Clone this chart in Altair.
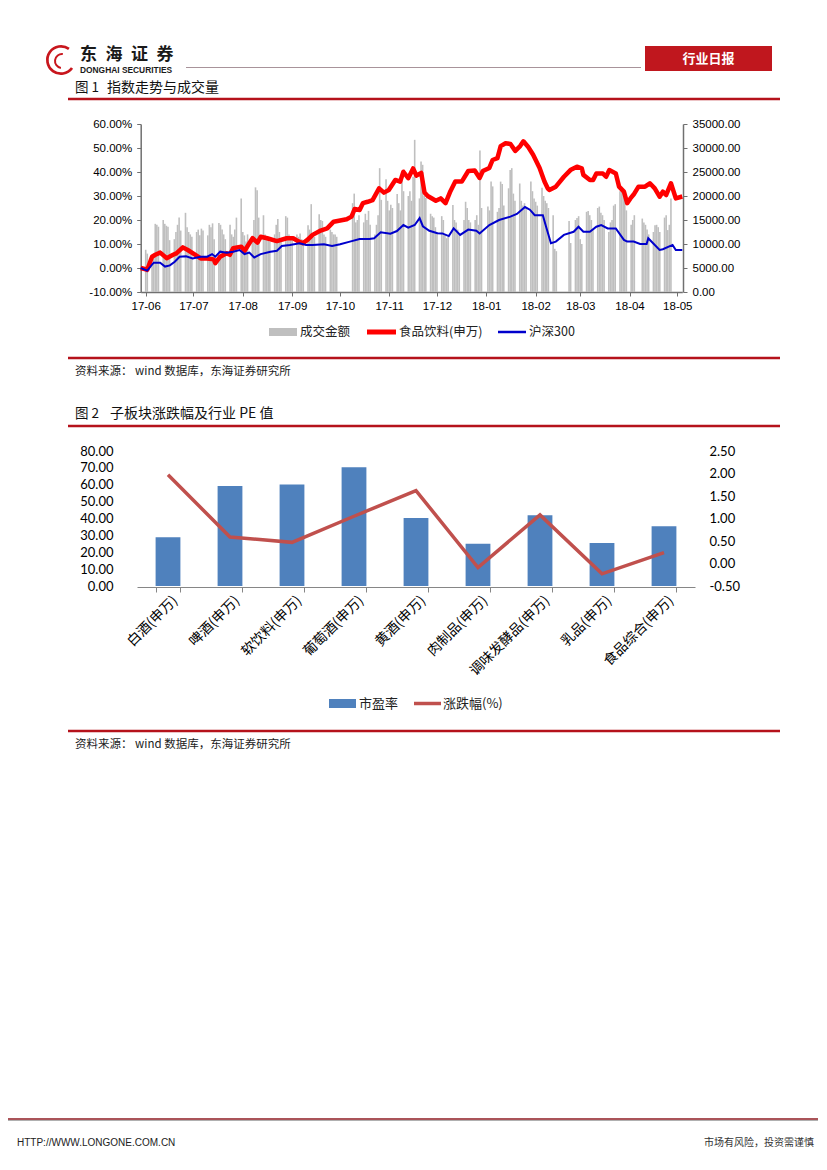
import altair as alt
import pandas as pd

W, H = 810, 1148


def px(x):
    return x - 8


def py(y):
    return y - 8


CJK = "Noto Sans CJK SC"
SANS = "Liberation Sans"
NUM2 = "Lato"
RED = "#C0171E"
AXG = "#707070"

one = pd.DataFrame({"k": [0]})


def text(x, y, s, size=12, color="#111111", font=CJK, weight="normal", align="left"):
    return alt.Chart(one).mark_text(
        text=s, fontSize=size, color=color, font=font, fontWeight=weight,
        align=align, baseline="middle"
    ).encode(x=alt.value(px(x)), y=alt.value(py(y)))


def hrule(x1, x2, y, color, width):
    return alt.Chart(one).mark_rule(color=color, strokeWidth=width).encode(
        x=alt.value(px(x1)), x2=alt.value(px(x2)), y=alt.value(py(y)))


def box(x1, x2, y1, y2, color):
    return alt.Chart(one).mark_rect(color=color).encode(
        x=alt.value(px(x1)), x2=alt.value(px(x2)),
        y=alt.value(py(y1)), y2=alt.value(py(y2)))


# ---------------- Figure 1 data ----------------
holidays = ["2017-10-02", "2017-10-03", "2017-10-04", "2017-10-05", "2017-10-06",
            "2018-01-01", "2018-02-15", "2018-02-16", "2018-02-19", "2018-02-20",
            "2018-02-21", "2018-04-05", "2018-04-06"]
trade_days = [d.strftime("%Y/%m/%d") for d in pd.bdate_range("2017-06-01", "2018-04-27")
              if d.strftime("%Y-%m-%d") not in holidays]

volume = [
    8800, 8000,
    5500, 7400, 14200, 14000, 13600,
    15000, 14200, 13800, 13600, 10800,
    11000, 12500, 14000, 15500, 12800,
    16500, 13500, 12500, 12000, 11500,
    12500, 13000, 11800, 13200, 12800,
    11800, 14000, 13500, 14300, 11000,
    14400, 14000, 13000, 12000, 11000,
    14000, 12000, 11500, 13000, 15500,
    19500, 12500, 11800, 10500, 12000,
    11000, 15000, 21800, 21200, 15500,
    16000, 12000, 11500, 11000, 10500,
    12000, 14000, 15200, 12500, 10500,
    15800, 15500, 12000, 11500, 11000,
    12000, 11500, 12200, 11000, 10800,
    13900, 13000, 18300, 12000, 11500,
    16200, 15000, 14800, 12000, 11500,
    13000, 12500, 12000, 12000, 11500,
    18500, 20500, 14500, 15000, 16000,
    14500, 16300, 15000, 16900, 14000,
    12000, 14000, 16000, 25800, 19200,
    23500, 19000, 17000, 18200, 17500,
    20400, 18500, 17000, 23500, 21000,
    20000, 21000, 19000, 24000, 31700,
    19500, 27200, 26500, 20000, 19600,
    16300, 15800, 15500, 13500, 12500,
    15800, 15000, 12000, 11200, 11500,
    18100, 15000, 14500, 13000, 12000,
    15000, 18800, 17500, 15000, 14500,
    15000, 16000, 14000, 29500, 17500,
    17800, 17000, 23000, 22000,
    16700, 17500, 23000, 22500, 18000,
    21600, 25400, 25800, 20500, 19000,
    22600, 19000, 18000, 18500, 17500,
    23000, 21000, 19500, 18800, 18000,
    21700, 20000, 19000, 18500, 17500,
    16000, 9000, 8500,
    14800, 10200,
    15000, 15400, 15800, 11000, 10000,
    16700, 16900, 16000, 15000, 13000,
    17500, 17800, 16500, 16000, 15000,
    12500, 14500, 15000, 18000, 18300,
    21000, 21900, 21000, 20000, 17000,
    14000, 15000, 16000,
    15300, 14500, 14000, 13000, 12000,
    12500, 13900, 14000, 13500, 12500,
    15500, 16000, 12900, 14000, 19500,
]

red_dates = [
    "2017/06/01", "2017/06/04", "2017/06/05", "2017/06/08", "2017/06/10", "2017/06/13",
    "2017/06/17", "2017/06/21", "2017/06/23", "2017/06/27", "2017/06/30",
    "2017/07/04", "2017/07/08", "2017/07/12", "2017/07/16", "2017/07/17", "2017/07/20",
    "2017/07/24", "2017/07/26", "2017/07/28",
    "2017/08/02", "2017/08/04", "2017/08/07", "2017/08/09", "2017/08/12", "2017/08/14",
    "2017/08/18", "2017/08/24", "2017/08/30",
    "2017/09/03", "2017/09/06", "2017/09/09", "2017/09/12", "2017/09/15", "2017/09/20",
    "2017/09/24", "2017/09/28",
    "2017/10/06", "2017/10/09", "2017/10/11", "2017/10/14", "2017/10/16", "2017/10/19",
    "2017/10/22", "2017/10/26", "2017/10/29",
    "2017/11/01", "2017/11/05", "2017/11/08", "2017/11/10", "2017/11/13", "2017/11/16",
    "2017/11/18", "2017/11/21", "2017/11/23", "2017/11/25", "2017/11/30",
    "2017/12/03", "2017/12/06", "2017/12/09", "2017/12/12", "2017/12/16", "2017/12/20",
    "2017/12/24", "2017/12/27", "2017/12/29",
    "2018/01/02", "2018/01/04", "2018/01/07", "2018/01/09", "2018/01/12", "2018/01/15",
    "2018/01/18", "2018/01/21", "2018/01/23", "2018/01/26", "2018/01/29",
    "2018/02/02", "2018/02/05", "2018/02/07", "2018/02/08", "2018/02/12", "2018/02/17",
    "2018/02/21", "2018/02/25", "2018/02/28",
    "2018/03/01", "2018/03/05", "2018/03/07", "2018/03/09", "2018/03/13", "2018/03/15",
    "2018/03/17", "2018/03/21", "2018/03/23", "2018/03/26", "2018/03/28", "2018/03/30",
    "2018/04/01", "2018/04/04", "2018/04/08", "2018/04/11", "2018/04/14", "2018/04/17",
    "2018/04/19", "2018/04/21", "2018/04/24", "2018/04/27",
    "2018/05/01",
]
red_pct = [
    0.000, -0.005, -0.008, 0.047, 0.055, 0.064, 0.041, 0.055, 0.061, 0.086, 0.075,
    0.058, 0.040, 0.040, 0.036, 0.020, 0.047, 0.061, 0.055, 0.082,
    0.089, 0.071, 0.103, 0.124, 0.106, 0.130, 0.124, 0.112, 0.124,
    0.124, 0.112, 0.103, 0.118, 0.138, 0.156, 0.165, 0.193,
    0.203, 0.214, 0.246, 0.242, 0.270, 0.276, 0.283, 0.332, 0.314,
    0.325, 0.367, 0.360, 0.401, 0.374, 0.415, 0.385, 0.396, 0.315, 0.300, 0.280,
    0.290, 0.270, 0.320, 0.360, 0.360, 0.404, 0.406, 0.375, 0.404,
    0.417, 0.450, 0.458, 0.508, 0.520, 0.517, 0.488, 0.508, 0.528, 0.504, 0.472,
    0.417, 0.360, 0.332, 0.325, 0.339, 0.380, 0.408, 0.422, 0.415,
    0.388, 0.367, 0.367, 0.394, 0.394, 0.380, 0.408, 0.394, 0.339, 0.318, 0.270, 0.290,
    0.306, 0.339, 0.339, 0.353, 0.332, 0.297, 0.318, 0.304, 0.353, 0.290,
    0.298,
]

blue_dates = [
    "2017/06/01", "2017/06/05", "2017/06/09", "2017/06/13", "2017/06/16", "2017/06/19",
    "2017/06/22", "2017/06/25", "2017/06/29",
    "2017/07/03", "2017/07/08", "2017/07/12", "2017/07/15", "2017/07/17", "2017/07/20",
    "2017/07/24", "2017/07/28",
    "2017/08/01", "2017/08/04", "2017/08/07", "2017/08/10", "2017/08/14", "2017/08/20",
    "2017/08/24", "2017/08/27",
    "2017/09/01", "2017/09/07", "2017/09/11", "2017/09/15", "2017/09/22", "2017/09/27",
    "2017/10/02", "2017/10/08", "2017/10/14", "2017/10/20", "2017/10/23", "2017/10/27",
    "2017/11/02", "2017/11/06", "2017/11/10", "2017/11/13", "2017/11/17", "2017/11/20",
    "2017/11/22", "2017/11/26",
    "2017/12/01", "2017/12/04", "2017/12/08", "2017/12/11", "2017/12/15", "2017/12/20",
    "2017/12/25", "2017/12/27",
    "2018/01/02", "2018/01/08", "2018/01/15", "2018/01/19", "2018/01/24", "2018/01/27",
    "2018/01/30",
    "2018/02/04", "2018/02/06", "2018/02/09", "2018/02/12", "2018/02/17", "2018/02/23",
    "2018/02/26",
    "2018/03/01", "2018/03/05", "2018/03/09", "2018/03/12", "2018/03/16", "2018/03/21",
    "2018/03/26", "2018/03/28",
    "2018/04/01", "2018/04/05", "2018/04/09", "2018/04/10", "2018/04/13", "2018/04/17",
    "2018/04/19", "2018/04/25", "2018/04/27",
    "2018/05/01",
]
blue_pct = [
    0.000, -0.011, 0.022, 0.022, 0.006, 0.011, 0.026, 0.047, 0.049,
    0.040, 0.047, 0.047, 0.058, 0.047, 0.068, 0.064, 0.068,
    0.075, 0.058, 0.064, 0.044, 0.058, 0.068, 0.072, 0.092,
    0.096, 0.103, 0.096, 0.096, 0.099, 0.092,
    0.099, 0.110, 0.121, 0.121, 0.124, 0.149,
    0.143, 0.154, 0.179, 0.168, 0.179, 0.208, 0.174, 0.155,
    0.145, 0.144, 0.133, 0.165, 0.138, 0.160, 0.155, 0.144,
    0.179, 0.200, 0.214, 0.225, 0.254, 0.243, 0.220,
    0.220, 0.172, 0.103, 0.110, 0.138, 0.151, 0.172,
    0.151, 0.151, 0.172, 0.179, 0.165, 0.165, 0.117, 0.110,
    0.110, 0.100, 0.100, 0.124, 0.103, 0.075, 0.078, 0.096, 0.075,
    0.075,
]

month_ticks = [alt.DateTime(year=2017, month=m, date=1) for m in range(6, 13)] + \
              [alt.DateTime(year=2018, month=m, date=1) for m in range(1, 6)]
pct_ticks = [-0.1, 0.0, 0.1, 0.2, 0.3, 0.4, 0.5, 0.6]
vol_ticks = [0, 5000, 10000, 15000, 20000, 25000, 30000, 35000]

vol_df = pd.DataFrame({"date": trade_days, "vol": volume})
red_df = pd.DataFrame({"date": red_dates, "pct": red_pct})
blue_df = pd.DataFrame({"date": blue_dates, "pct": blue_pct})

x1_scale = alt.Scale(domain=[alt.DateTime(year=2017, month=6, date=1),
                             alt.DateTime(year=2018, month=5, date=1)],
                     range=[px(140.7), px(682.3)], nice=False)
pct_scale = alt.Scale(domain=[-0.1, 0.6], range=[py(292), py(124)], nice=False, zero=False)
vol_scale = alt.Scale(domain=[0, 35000], range=[py(292), py(124)], nice=False)

MINUS = "\u2212"
common1 = dict(labelFont=SANS, labelFontSize=11.5, labelColor="#000000", domainColor=AXG,
               domainWidth=1.5, tickColor=AXG, tickWidth=1, tickSize=4, grid=False,
               title=None, labelOverlap=False)

bars1 = alt.Chart(vol_df).mark_bar(size=1.6, color="#BFBFBF").encode(
    x=alt.X("date:T", scale=x1_scale,
            axis=alt.Axis(orient="bottom", offset=py(292) - H, values=month_ticks,
                          format="%y-%m", labelPadding=4, labelFlush=False, **common1)),
    y=alt.Y("vol:Q", scale=vol_scale,
            axis=alt.Axis(orient="right", offset=px(683) - W, values=vol_ticks,
                          format=".2f", labelPadding=5, **common1)),
)

red_line = alt.Chart(red_df).mark_line(color="#FF0000", strokeWidth=4.5,
                                        strokeJoin="round").encode(
    x=alt.X("date:T", scale=x1_scale, axis=None),
    y=alt.Y("pct:Q", scale=pct_scale,
            axis=alt.Axis(orient="left", offset=-px(140.7), values=pct_ticks,
                          labelExpr="replace(format(datum.value, '.2%'), '" + MINUS + "', '-')",
                          labelPadding=5, **common1)),
)

blue_line = alt.Chart(blue_df).mark_line(color="#0000CC", strokeWidth=2).encode(
    x=alt.X("date:T", scale=x1_scale, axis=None),
    y=alt.Y("pct:Q", scale=pct_scale, axis=None),
)

# ---------------- Figure 2 data ----------------
categories = ["白酒(申万)", "啤酒(申万)", "软饮料(申万)", "葡萄酒(申万)", "黄酒(申万)",
              "肉制品(申万)", "调味发酵品(申万)", "乳品(申万)", "食品综合(申万)"]
pe_values = [28.9, 59.3, 60.1, 70.3, 40.3, 25.0, 42.0, 25.5, 35.4]
change_values = [1.97, 0.59, 0.47, 1.05, 1.62, -0.09, 1.08, -0.23, 0.24]
pe_ticks = [0, 10, 20, 30, 40, 50, 60, 70, 80]
chg_ticks = [-0.5, 0.0, 0.5, 1.0, 1.5, 2.0, 2.5]

df2 = pd.DataFrame({"cat": categories, "pe": pe_values, "chg": change_values})

X2 = [px(137), px(695)]
Y2 = [py(586), py(451)]

bars2 = alt.Chart(df2).mark_bar(color="#4F81BD").encode(
    x=alt.X("cat:N", sort=categories,
            scale=alt.Scale(domain=categories, range=X2, paddingInner=0.6, paddingOuter=0.3),
            axis=alt.Axis(orient="bottom", offset=py(587) - H, labelAngle=-45,
                          labelAlign="right", labelBaseline="middle", labelFont=CJK,
                          labelFontSize=13.8, labelColor="#000000", labelPadding=6,
                          labelOffset=7, tickBand="extent", tickSize=5, tickColor="#868686",
                          domainColor="#868686", domainWidth=1, title=None,
                          labelOverlap=False, labelLimit=300, grid=False)),
    y=alt.Y("pe:Q", scale=alt.Scale(domain=[0, 80], range=Y2, nice=False),
            axis=alt.Axis(orient="left", offset=-px(117), values=pe_ticks, format=".2f",
                          domain=False, ticks=False, tickSize=0, labelPadding=4,
                          labelFont=NUM2, labelFontSize=13, labelColor="#000000",
                          grid=False, title=None, labelOverlap=False)),
)

line2 = alt.Chart(df2).mark_line(color="#C0504D", strokeWidth=3.5).encode(
    x=alt.X("cat:N", sort=categories,
            scale=alt.Scale(type="point", domain=categories, range=X2, padding=0.5),
            axis=None),
    y=alt.Y("chg:Q", scale=alt.Scale(domain=[-0.5, 2.5], range=Y2, nice=False, zero=False),
            axis=alt.Axis(orient="right", offset=px(705) - W, values=chg_ticks,
                          labelExpr="replace(format(datum.value, '.2f'), '" + MINUS + "', '-')",
                          domain=False, ticks=False, tickSize=0, labelPadding=4,
                          labelFont=NUM2, labelFontSize=13, labelColor="#000000",
                          grid=False, title=None, labelOverlap=False)),
)

# ---------------- page decorations ----------------
decor = [
    # logo
    alt.Chart(one).mark_arc(theta=2.2, theta2=6.9, radius=15, radius2=12.3, color="#C8161D").encode(
        x=alt.value(px(61)), y=alt.value(py(60))),
    alt.Chart(one).mark_arc(theta=3.3, theta2=6.4, radius=8, radius2=6, color="#C8161D").encode(
        x=alt.value(px(62)), y=alt.value(py(61))),
    text(80, 54.5, "东\u2002海\u2002证\u2002券", size=17, color="#1A1A1A", weight="bold"),
    text(80, 70, "DONGHAI SECURITIES", size=8.4, color="#1A1A1A", font=SANS, weight="bold"),
    hrule(186, 641, 67.5, "#A8939A", 1.2),
    box(645, 772, 46, 71, RED),
    text(708.5, 58.5, "行业日报", size=13, color="#FFFFFF", weight="bold", align="center"),
    # figure 1 heading
    text(75, 88, "图 1", size=13.5),
    text(107, 88, "指数走势与成交量", size=14),
    hrule(68, 780, 99, "#B5121B", 2.5),
    # figure 1 legend
    box(269, 297, 328, 336, "#BFBFBF"),
    text(300, 332, "成交金额", size=12.5, color="#222222"),
    hrule(367, 396, 332, "#FF0000", 5),
    text(399, 332, "食品饮料(申万)", size=12.5, color="#222222"),
    hrule(498, 526, 332, "#0000CC", 2.5),
    text(529, 332, "沪深300", size=12.5, color="#222222"),
    hrule(68, 780, 358, "#B5121B", 2.5),
    text(75, 372, "资料来源：  wind 数据库，东海证券研究所", size=11.5, color="#222222"),
    # figure 2 heading
    text(75, 414, "图 2", size=13.5),
    text(110, 414, "子板块涨跌幅及行业 PE 值", size=14),
    hrule(68, 780, 426, "#B5121B", 2.5),
    # figure 2 legend
    box(329, 356, 699, 708, "#4F81BD"),
    text(359, 703.5, "市盈率", size=13, color="#222222"),
    hrule(414, 441, 703.5, "#C0504D", 3.5),
    text(443, 703.5, "涨跌幅(%)", size=13, color="#222222"),
    hrule(68, 780, 731, "#B5121B", 2.5),
    text(75, 745, "资料来源：  wind 数据库，东海证券研究所", size=11.5, color="#222222"),
    # footer
    hrule(8, 818, 1120.5, "#B0B0B0", 1),
    hrule(8, 818, 1119, "#8E1B22", 1.3),
    text(17, 1143, "HTTP://WWW.LONGONE.COM.CN", size=10, color="#222222", font=SANS),
    text(814, 1143, "市场有风险，投资需谨慎", size=10, color="#333333", align="right"),
]

chart = alt.layer(*decor, bars1, red_line, blue_line, bars2, line2).resolve_scale(
    x="independent", y="independent"
).properties(
    width=W, height=H, padding=0, background="white",
    autosize=alt.AutoSizeParams(type="none"),
).configure_view(stroke=None)

chart.save("out.html", embed_options={"renderer": "svg", "actions": False})
